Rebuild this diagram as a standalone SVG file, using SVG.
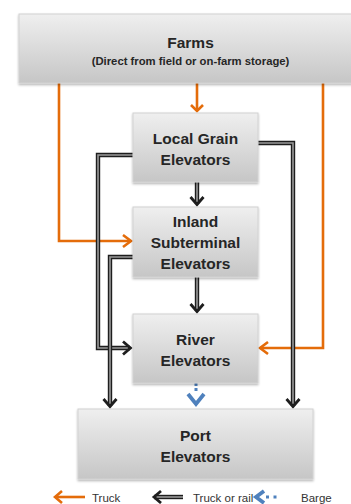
<svg xmlns="http://www.w3.org/2000/svg" width="351" height="504" viewBox="0 0 351 504">
<style>
.box{fill:url(#g);stroke:#d2d2d2;stroke-width:1;filter:url(#sh)}
.t{font-family:"Liberation Sans",Arial,sans-serif;font-weight:bold;font-size:15.5px;fill:#262626;text-anchor:middle}
.st{font-family:"Liberation Sans",Arial,sans-serif;font-weight:bold;font-size:11.3px;fill:#262626;text-anchor:middle}
.lg{font-family:"Liberation Sans",Arial,sans-serif;font-size:11.5px;fill:#333}
.or{fill:none;stroke:#e46c0a;stroke-width:2.6;stroke-linejoin:miter}
.bo{fill:none;stroke:#1e1e1e;stroke-width:4.4;stroke-linejoin:miter}
.bi{fill:none;stroke:#9a9a9a;stroke-width:1.6;stroke-linejoin:miter}
.bh{fill:none;stroke:#1e1e1e;stroke-width:2.8}
.oh{fill:none;stroke:#e46c0a;stroke-width:2.6}
.bl{fill:none;stroke:#4f81bd;stroke-width:3.8}
.dot{fill:#4f81bd}
</style>
<defs>
<linearGradient id="g" x1="0" y1="0" x2="0" y2="1">
<stop offset="0" stop-color="#efefef"/>
<stop offset="1" stop-color="#c6c6c6"/>
</linearGradient>
<filter id="sh" x="-10%" y="-10%" width="120%" height="130%">
<feDropShadow dx="0" dy="1.5" stdDeviation="1" flood-color="#000" flood-opacity="0.3"/>
</filter>
</defs>

<g id="connectors">
<g id="c-farms-local"><path class="or" d="M197,83 V111"/><path class="oh" d="M191,105 L197,111 L203,105"/></g>
<g id="c-farms-inland"><path class="or" d="M59,83 V241 H131"/><path class="oh" d="M123,235 L131,241 L123,247"/></g>
<g id="c-farms-river"><path class="or" d="M323,83 V348 H260"/><path class="oh" d="M268,342 L260,348 L268,354"/></g>
<g id="c-local-inland"><path class="bo" d="M197,182 V204"/><path class="bi" d="M197,182 V202"/><path class="bh" d="M190.5,197 L197,204.5 L203.5,197"/></g>
<g id="c-inland-river"><path class="bo" d="M197,277 V311"/><path class="bi" d="M197,277 V309"/><path class="bh" d="M190.5,304 L197,311.5 L203.5,304"/></g>
<g id="c-local-river"><path class="bo" d="M133,155 H98 V348 H130"/><path class="bi" d="M133,155 H98 V348 H128"/><path class="bh" d="M123,341.5 L130.5,348 L123,354.5"/></g>
<g id="c-inland-port"><path class="bo" d="M133,257 H110 V406"/><path class="bi" d="M133,257 H110 V404"/><path class="bh" d="M103.5,399 L110,406.5 L116.5,399"/></g>
<g id="c-local-port"><path class="bo" d="M258,143 H293 V406"/><path class="bi" d="M258,143 H293 V404"/><path class="bh" d="M286.5,399 L293,406.5 L299.5,399"/></g>
<g id="c-river-port"><rect class="dot" x="194.5" y="383" width="3" height="3"/><rect class="dot" x="194.5" y="388" width="3" height="3"/><path class="bl" d="M188,394 L196,404 L204,394"/></g>
</g>

<g id="farms"><rect class="box" x="19" y="14" width="333" height="69"/>
<text class="t" x="190.5" y="48">Farms</text>
<text class="st" x="190.5" y="65">(Direct from field or on-farm storage)</text></g>
<g id="local"><rect class="box" x="133" y="113" width="125" height="69"/>
<text class="t" x="195.5" y="144">Local Grain</text>
<text class="t" x="195.5" y="164.5">Elevators</text></g>
<g id="inland"><rect class="box" x="133" y="207" width="125" height="70"/>
<text class="t" x="195.5" y="227">Inland</text>
<text class="t" x="195.5" y="248">Subterminal</text>
<text class="t" x="195.5" y="268.5">Elevators</text></g>
<g id="river"><rect class="box" x="133" y="314" width="125" height="69"/>
<text class="t" x="195.5" y="345">River</text>
<text class="t" x="195.5" y="366">Elevators</text></g>
<g id="port"><rect class="box" x="78" y="409" width="235" height="70"/>
<text class="t" x="195.5" y="441">Port</text>
<text class="t" x="195.5" y="461.5">Elevators</text></g>

<g id="legend">
<path class="or" d="M55,497 H85"/><path class="oh" d="M62,491 L55,497 L62,503"/>
<text class="lg" x="92" y="501.5">Truck</text>
<path class="bo" d="M154,497 H183"/><path class="bi" d="M156,497 H183"/><path class="bh" d="M161,491 L154,497 L161,503"/>
<text class="lg" x="193" y="501.5">Truck or rail</text>
<path class="bl" d="M264,491 L256,497 L264,503"/><rect class="dot" x="266" y="495.5" width="3" height="3"/><rect class="dot" x="273.5" y="495.5" width="3" height="3"/>
<text class="lg" x="301" y="501.5">Barge</text>
</g>
</svg>
